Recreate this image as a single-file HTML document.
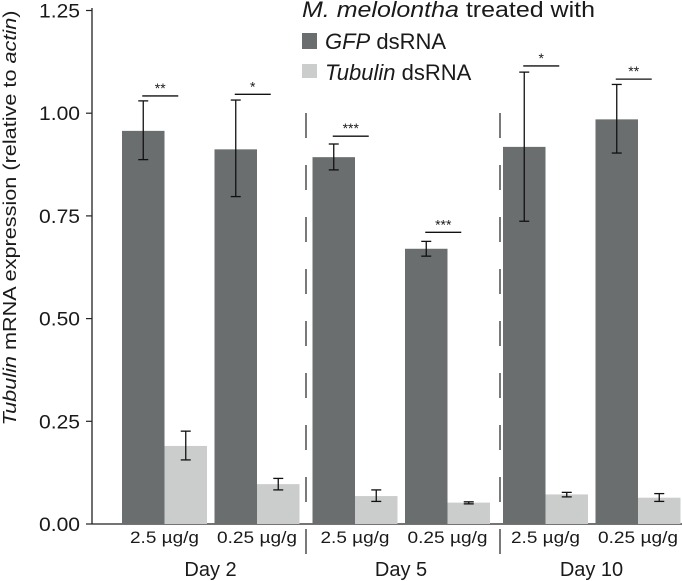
<!DOCTYPE html>
<html><head><meta charset="utf-8"><style>
body{margin:0;background:#fff;}
svg text{font-family:"Liberation Sans",sans-serif;fill:#1a1a1a;}
</style></head><body>
<svg width="682" height="581" style="position:absolute;left:0;top:0">
<g id="plot"></g>
<text x="0" y="0" transform="translate(16 218) rotate(-90)" text-anchor="middle" font-size="18" textLength="415" lengthAdjust="spacingAndGlyphs"><tspan font-style="italic">Tubulin</tspan> mRNA expression (relative to <tspan font-style="italic">actin</tspan>)</text>
<g>
<text x="302" y="17" font-size="22" textLength="293" lengthAdjust="spacingAndGlyphs"><tspan font-style="italic">M. melolontha</tspan> treated with</text>
<rect x="302" y="33" width="15" height="16" fill="#6b6e6f"/>
<text x="325" y="49" font-size="22"><tspan font-style="italic">GFP</tspan> dsRNA</text>
<rect x="302" y="64" width="15" height="14" fill="#cbcdcc"/>
<text x="325" y="80" font-size="22"><tspan font-style="italic">Tubulin</tspan> dsRNA</text>
</g>
</svg>
<script>
const groups=["Day 2","Day 5","Day 10"];
const doses=["2.5 µg/g","0.25 µg/g","2.5 µg/g","0.25 µg/g","2.5 µg/g","0.25 µg/g"];
const gfpVals=[0.957,0.912,0.893,0.670,0.918,0.985];
const gfpLo=[0.887,0.797,0.862,0.652,0.737,0.903];
const gfpHi=[1.030,1.032,0.925,0.688,1.100,1.070];
const tubVals=[0.190,0.097,0.068,0.052,0.072,0.064];
const tubLo=[0.156,0.083,0.055,0.049,0.066,0.055];
const tubHi=[0.226,0.111,0.083,0.054,0.077,0.074];
const sig=["**","*","***","***","*","**"];
const sigY=[1.042,1.046,0.944,0.710,1.115,1.083];
const yTicks=[0,0.25,0.5,0.75,1.0,1.25];
const yTickLabels=["0.00","0.25","0.50","0.75","1.00","1.25"];

const NS="http://www.w3.org/2000/svg";
const g=document.getElementById('plot');
const y=v=>524-v*410.8;
const barW=42.5;
function pairX(i){const grp=Math.floor(i/2),k=i%2;return 122+grp*190.5+k*92.5;}
function mk(t,a,p){const e=document.createElementNS(NS,t);for(const k in a)e.setAttribute(k,a[k]);(p||g).appendChild(e);return e;}

let ax=mk('line',{x1:92,y1:8,x2:92,y2:524,stroke:'#222','stroke-width':1.3});


let xa=mk('line',{x1:92,y1:524,x2:682,y2:524,stroke:'#222','stroke-width':1.3});


yTicks.forEach((v,i)=>{
 mk('line',{x1:86,x2:92,y1:y(v),y2:y(v),stroke:'#222','stroke-width':1.2});
 const t=mk('text',{x:80,y:y(v)+7,'text-anchor':'end','font-size':19,textLength:41,lengthAdjust:'spacingAndGlyphs'});
 t.textContent=yTickLabels[i];
 
 
});
[306,500].forEach(x=>{
 const l=mk('line',{x1:x,x2:x,y1:113,y2:581,stroke:'#333','stroke-width':1.3,'stroke-dasharray':'25,27'});
 
 
});
function err(cx,lo,hi){
 mk('line',{x1:cx,x2:cx,y1:y(hi),y2:y(lo),stroke:'#111','stroke-width':1.3});
 mk('line',{x1:cx-5,x2:cx+5,y1:y(hi),y2:y(hi),stroke:'#111','stroke-width':1.3});
 mk('line',{x1:cx-5,x2:cx+5,y1:y(lo),y2:y(lo),stroke:'#111','stroke-width':1.3});
}
for(let i=0;i<6;i++){
 const x0=pairX(i);
 const b=mk('rect',{x:x0,y:y(gfpVals[i]),width:barW,height:y(0)-y(gfpVals[i]),fill:'#6b6e6f'});
 
 
 const c=mk('rect',{x:x0+barW,y:y(tubVals[i]),width:barW,height:y(0)-y(tubVals[i]),fill:'#cbcdcc'});
 
 
 err(x0+barW/2,gfpLo[i],gfpHi[i]);
 err(x0+barW*1.5,tubLo[i],tubHi[i]);
 mk('line',{x1:x0+barW/2-1,x2:x0+barW/2+35,y1:y(sigY[i]),y2:y(sigY[i]),stroke:'#111','stroke-width':1.3});
 const s=mk('text',{x:x0+barW/2+17,y:y(sigY[i])-3,'text-anchor':'middle','font-size':14});
 s.textContent=sig[i];
 
 
 const d=mk('text',{x:x0+barW,y:543,'text-anchor':'middle','font-size':17,textLength:(i%2?80:69),lengthAdjust:'spacingAndGlyphs'});
 d.textContent=doses[i];
 
 
}
groups.forEach((n,k)=>{
 const t=mk('text',{x:pairX(2*k)+barW+46,y:576,'text-anchor':'middle','font-size':20});
 t.textContent=n;
 
 
});
</script>
</body></html>
